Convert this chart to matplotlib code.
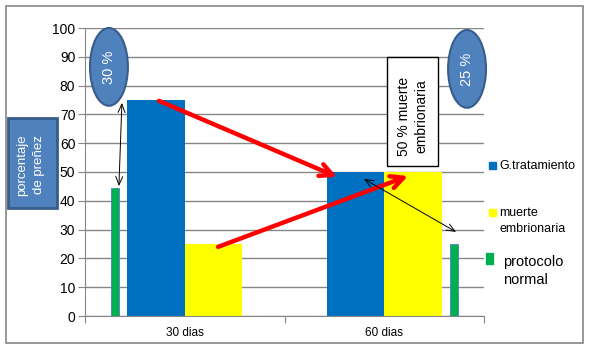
import numpy as np
import matplotlib.pyplot as plt
from matplotlib.patches import Ellipse, Rectangle

plt.rcParams['font.family'] = ['Liberation Sans', 'DejaVu Sans']

# datos del grafico
categorias = ['30 dias', '60 dias']
g_tratamiento = [75, 50]
muerte_embrionaria = [25, 50]
protocolo_normal = [44.5, 25]

azul = '#0070C0'
amarillo = '#FFFF00'
verde = '#00B050'
gris = '#868686'

fig = plt.figure(figsize=(5.9, 3.5), dpi=100)
ax = fig.add_axes([85/590, 1-316/350, 399/590, 288/350])

# marco exterior del grafico
fig.patches.append(Rectangle((6/590, 7/350), 577/590, 337/350, transform=fig.transFigure,
                             fill=False, edgecolor=gris, lw=1.2))

x = np.arange(len(categorias)) + 0.5
ancho = 0.288
ax.bar(x - ancho/2, g_tratamiento, ancho, color=azul, zorder=2)
ax.bar(x + ancho/2, muerte_embrionaria, ancho, color=amarillo, zorder=2)
# barras delgadas del protocolo normal, una a cada lado
desplaz = [-0.35, 0.349]
ax.bar(x + np.array(desplaz), protocolo_normal, 0.04, color=verde,
       edgecolor='#4F81BD', lw=0.6, zorder=2)

ax.set_xlim(0, 2)
ax.set_ylim(0, 100)
ax.set_yticks(np.arange(0, 101, 10))
ax.yaxis.grid(True, color=gris, lw=1)
ax.set_axisbelow(True)
for s in ['top', 'right']:
    ax.spines[s].set_visible(False)
ax.spines['left'].set_color(gris)
ax.spines['bottom'].set_color(gris)
ax.tick_params(axis='y', colors=gris, labelcolor='black', labelsize=10, length=5, pad=2)
ax.set_xticks([0, 1, 2])
ax.set_xticklabels([])
ax.tick_params(axis='x', colors=gris, length=5)
for xi, c in zip(x, categorias):
    ax.text(xi, -6, c, ha='center', va='center', fontsize=8.5)

# flechas rojas
for (x0, y0), (x1, y1) in [((0.371, 74.7), (1.263, 48.3)), ((0.667, 24), (1.619, 48.6))]:
    ax.annotate('', xy=(x1, y1), xytext=(x0, y0),
                arrowprops=dict(arrowstyle='->,head_length=0.9,head_width=0.45',
                                color='red', lw=3.2, shrinkA=0, shrinkB=0), zorder=5)

# flechas negras dobles
for (x0, y0), (x1, y1) in [((0.185, 74), (0.17, 45.1)), ((1.398, 47.6), (1.86, 29.2))]:
    ax.annotate('', xy=(x1, y1), xytext=(x0, y0),
                arrowprops=dict(arrowstyle='<->,head_length=0.6,head_width=0.25',
                                color='black', lw=0.7, shrinkA=0, shrinkB=0), zorder=5)

# elipses con porcentaje
for cx, cy, txt in [(0.12, 86.5, '30 %'), (1.915, 85.8, '25 %')]:
    ax.add_patch(Ellipse((cx, cy), 0.19, 27, facecolor='#4F81BD', edgecolor='#385D8A',
                         lw=1.5, clip_on=False, zorder=6))
    ax.text(cx, cy, txt, rotation=90, color='white', fontsize=10.5,
            ha='center', va='center', zorder=7)

# cuadro azul de porcentaje de preñez
fig.patches.append(Rectangle((8/590, 1-208/350), 49/590, 90/350, transform=fig.transFigure,
                             facecolor='#4F81BD', edgecolor='#385D8A', lw=2))
fig.text(22/590, 1-165/350, 'porcentaje', rotation=90, color='white', fontsize=9.5,
         ha='center', va='center')
fig.text(39/590, 1-165/350, 'de preñez', rotation=90, color='white', fontsize=9.5,
         ha='center', va='center')

# cuadro blanco de muerte embrionaria
fig.patches.append(Rectangle((387/590, 1-166/350), 51/590, 109/350, transform=fig.transFigure,
                             facecolor='white', edgecolor='black', lw=1, zorder=3))
fig.text(404/590, 1-116/350, '50 % muerte', rotation=90, fontsize=10,
         ha='center', va='center', zorder=4)
fig.text(421/590, 1-116/350, 'embrionaria', rotation=90, fontsize=10,
         ha='center', va='center', zorder=4)

# leyenda a la derecha
fig.patches.append(Rectangle((489/590, 1-169.5/350), 7/590, 7/350, transform=fig.transFigure,
                             color=azul))
fig.text(499/590, 1-166/350, 'G.tratamiento', fontsize=9, va='center')
fig.patches.append(Rectangle((489/590, 1-216/350), 7/590, 7/350, transform=fig.transFigure,
                             color=amarillo))
fig.text(499/590, 1-213/350, 'muerte', fontsize=9, va='center')
fig.text(499/590, 1-229/350, 'embrionaria', fontsize=9, va='center')
fig.patches.append(Rectangle((485.5/590, 1-264/350), 7/590, 11/350, transform=fig.transFigure,
                             color=verde))
fig.text(503/590, 1-262/350, 'protocolo', fontsize=10.5, va='center')
fig.text(503/590, 1-280/350, 'normal', fontsize=10.5, va='center')

fig.savefig('out.png', dpi=100)
